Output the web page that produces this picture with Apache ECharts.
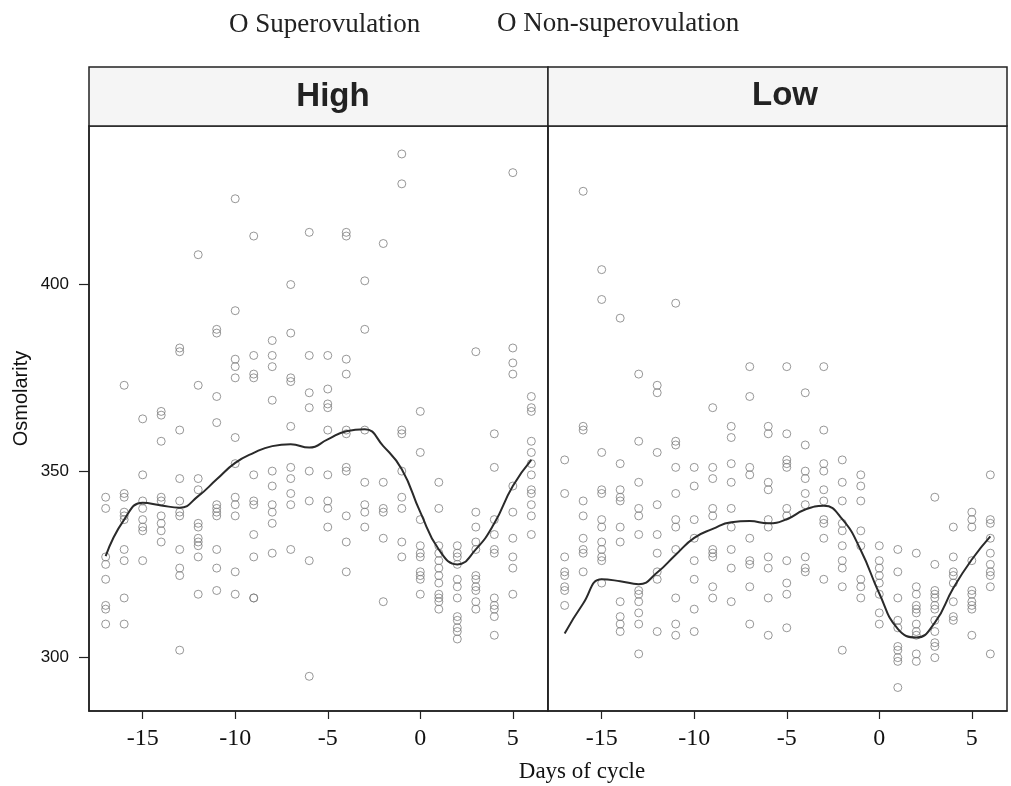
<!DOCTYPE html>
<html>
<head>
<meta charset="utf-8">
<script src="https://cdn.jsdelivr.net/npm/echarts@6/dist/echarts.min.js"></script>
<style>
  html, body { margin: 0; background: #fff; }
  #chart { width: 1011px; height: 786px; }
</style>
</head>
<body>
<div id="chart"></div>
<script>
// days of cycle, one column of points per day
const days = [-17, -16, -15, -14, -13, -12, -11, -10, -9, -8, -7, -6, -5, -4, -3, -2, -1, 0, 1, 2, 3, 4, 5, 6]

// High panel: osmolarity values per day
const highPts = [
  [343, 340, 327, 325, 321, 314, 313, 309],
  [373, 344, 343, 339, 338, 337, 329, 326, 316, 309],
  [364, 349, 342, 340, 337, 335, 334, 326],
  [366, 365, 358, 343, 342, 338, 336, 334, 331],
  [383, 382, 361, 348, 342, 339, 338, 329, 324, 322, 302],
  [408, 373, 348, 345, 336, 335, 332, 331, 330, 327, 317],
  [388, 387, 370, 363, 341, 340, 339, 338, 329, 324, 318],
  [423, 393, 380, 378, 375, 359, 352, 343, 341, 338, 323, 317],
  [413, 381, 376, 375, 349, 342, 341, 333, 327, 316, 316],
  [385, 381, 378, 369, 350, 346, 341, 339, 336, 328],
  [400, 387, 375, 374, 362, 351, 348, 344, 341, 329],
  [414, 381, 371, 367, 350, 342, 326, 295],
  [381, 372, 368, 367, 361, 349, 342, 340, 335],
  [414, 413, 380, 376, 361, 360, 351, 350, 338, 331, 323],
  [401, 388, 361, 347, 341, 339, 335],
  [411, 347, 340, 339, 332, 315],
  [435, 427, 361, 360, 350, 343, 340, 331, 327],
  [366, 355, 337, 330, 328, 327, 323, 322, 321, 317],
  [347, 340, 330, 328, 326, 324, 322, 320, 317, 316, 315, 313],
  [330, 328, 327, 325, 321, 319, 316, 311, 310, 308, 307, 305],
  [382, 339, 335, 331, 329, 322, 321, 319, 318, 315, 313],
  [360, 351, 337, 333, 329, 328, 316, 314, 313, 311, 306],
  [430, 383, 379, 376, 346, 339, 332, 327, 324, 317],
  [370, 367, 366, 358, 355, 352, 349, 345, 344, 341, 338, 333]
]

// Low panel: osmolarity values per day
const lowPts = [
  [353, 344, 327, 323, 322, 319, 318, 314],
  [425, 362, 361, 342, 338, 332, 329, 328, 323],
  [404, 396, 355, 345, 344, 337, 335, 331, 329, 327, 326, 320],
  [391, 352, 345, 343, 342, 335, 331, 315, 311, 309, 307],
  [376, 358, 347, 340, 338, 333, 318, 317, 315, 312, 309, 301],
  [373, 371, 355, 341, 333, 328, 323, 321, 307],
  [395, 358, 357, 351, 344, 337, 335, 329, 316, 309, 306],
  [351, 346, 337, 332, 326, 321, 313, 307],
  [367, 351, 348, 340, 338, 329, 328, 327, 319, 316],
  [362, 359, 352, 347, 340, 335, 329, 324, 315],
  [378, 370, 351, 349, 332, 326, 325, 319, 309],
  [362, 360, 347, 345, 337, 335, 327, 324, 316, 306],
  [378, 360, 353, 352, 351, 340, 338, 326, 320, 317, 308],
  [371, 357, 350, 348, 344, 341, 327, 324, 323],
  [378, 361, 352, 350, 345, 342, 337, 336, 332, 321],
  [353, 347, 342, 336, 334, 330, 326, 324, 319, 302],
  [349, 346, 342, 334, 330, 321, 319, 316],
  [330, 326, 324, 322, 320, 317, 312, 309],
  [329, 323, 316, 310, 308, 303, 302, 300, 299, 292],
  [328, 319, 317, 314, 313, 312, 309, 307, 306, 301, 299],
  [343, 325, 318, 317, 316, 314, 313, 310, 307, 304, 303, 300],
  [335, 327, 323, 322, 320, 315, 311, 310],
  [339, 337, 335, 326, 318, 317, 315, 314, 313, 306],
  [349, 337, 336, 332, 328, 325, 323, 322, 319, 301]
]

// smoothed curves
const highFit = [327.2, 337, 341.5, 340.8, 340.2, 343.3, 347.8, 352.2, 354.9, 356.7, 357.2, 356.3, 358.5, 360.7, 361.2, 356.7, 350.5, 339, 329, 325, 329, 336, 346, 353]
const lowFit = [306.5, 314.5, 321, 320.5, 319.7, 322.8, 327.6, 332.1, 334.5, 336.3, 336.6, 336, 337.1, 339.7, 340.7, 337.1, 328.8, 317.2, 307.7, 305.4, 309.4, 318.7, 326.3, 332.5]

const xTicks = [-15, -10, -5, 0, 5]
const yTicks = [300, 350, 400]
const panels = ['High', 'Low']

const toPairs = (pts) => {
  const out = []
  pts.forEach((col, i) => {
    col.forEach(v => out.push([days[i], v]))
  })
  return out
}

const serif = 'Liberation Serif, Times New Roman, serif'
const sans = 'Liberation Sans, Arial, sans-serif'

const chart = echarts.init(document.getElementById('chart'))

const gridBase = { top: 126, height: 585, width: 459, show: true, borderColor: '#222', borderWidth: 1.5, backgroundColor: '#fff' }

const xAxisBase = (gi) => ({
  type: 'value',
  gridIndex: gi,
  min: -17.9,
  max: 6.9,
  splitLine: { show: false },
  axisLine: { show: true, onZero: false, lineStyle: { color: '#222', width: 1.5 } },
  axisTick: { show: true, customValues: xTicks, length: 8, lineStyle: { color: '#222', width: 1.2 } },
  axisLabel: { customValues: xTicks, margin: 16, color: '#111', fontFamily: serif, fontSize: 24 }
})

const yAxisBase = (gi) => ({
  type: 'value',
  gridIndex: gi,
  min: 285.7,
  max: 442.5,
  splitLine: { show: false },
  axisLine: { show: true, onZero: false, lineStyle: { color: '#222', width: 1.5 } },
  axisTick: { show: gi === 0, customValues: yTicks, length: 10, lineStyle: { color: '#222', width: 1.2 } },
  axisLabel: { show: gi === 0, customValues: yTicks, margin: 20, color: '#111', fontFamily: sans, fontSize: 17 }
})

const pointStyle = { color: 'rgba(0,0,0,0)', borderColor: '#7d7d7d', borderWidth: 1 }

const option = {
  animation: false,
  backgroundColor: '#fff',
  grid: [
    Object.assign({ left: 89 }, gridBase),
    Object.assign({ left: 548 }, gridBase)
  ],
  xAxis: [xAxisBase(0), xAxisBase(1)],
  yAxis: [
    Object.assign(yAxisBase(0), {
      name: 'Osmolarity',
      nameLocation: 'middle',
      nameGap: 58,
      nameTextStyle: { fontFamily: sans, fontSize: 20, color: '#111', padding: [0, 0, 0, 40] }
    }),
    yAxisBase(1)
  ],
  graphic: [
    { type: 'rect', shape: { x: 89, y: 67, width: 459, height: 59 }, style: { fill: '#f5f5f5', stroke: '#222', lineWidth: 1.5 } },
    { type: 'rect', shape: { x: 548, y: 67, width: 459, height: 59 }, style: { fill: '#f5f5f5', stroke: '#222', lineWidth: 1.5 } },
    { type: 'text', x: 333, y: 97, style: { text: panels[0], font: 'bold 33px ' + sans, fill: '#222', textAlign: 'center', textVerticalAlign: 'middle' } },
    { type: 'text', x: 785, y: 96, style: { text: panels[1], font: 'bold 33px ' + sans, fill: '#222', textAlign: 'center', textVerticalAlign: 'middle' } },
    { type: 'text', x: 229, y: 25, style: { text: 'O Superovulation', font: '27px ' + serif, fill: '#222', textVerticalAlign: 'middle' } },
    { type: 'text', x: 497, y: 24, style: { text: 'O Non-superovulation', font: '27px ' + serif, fill: '#222', textVerticalAlign: 'middle' } },
    { type: 'text', x: 582, y: 772, style: { text: 'Days of cycle', font: '23px ' + serif, fill: '#111', textAlign: 'center', textVerticalAlign: 'middle' } }
  ],
  series: [
    {
      type: 'scatter',
      xAxisIndex: 0,
      yAxisIndex: 0,
      symbol: 'circle',
      symbolSize: 8,
      itemStyle: pointStyle,
      data: toPairs(highPts)
    },
    {
      type: 'line',
      xAxisIndex: 0,
      yAxisIndex: 0,
      smooth: 0.5,
      showSymbol: false,
      lineStyle: { color: '#2a2a2a', width: 2 },
      data: days.map((d, i) => [d, highFit[i]])
    },
    {
      type: 'scatter',
      xAxisIndex: 1,
      yAxisIndex: 1,
      symbol: 'circle',
      symbolSize: 8,
      itemStyle: pointStyle,
      data: toPairs(lowPts)
    },
    {
      type: 'line',
      xAxisIndex: 1,
      yAxisIndex: 1,
      smooth: 0.5,
      showSymbol: false,
      lineStyle: { color: '#2a2a2a', width: 2 },
      data: days.map((d, i) => [d, lowFit[i]])
    }
  ]
}

chart.setOption(option)
</script>
</body>
</html>
